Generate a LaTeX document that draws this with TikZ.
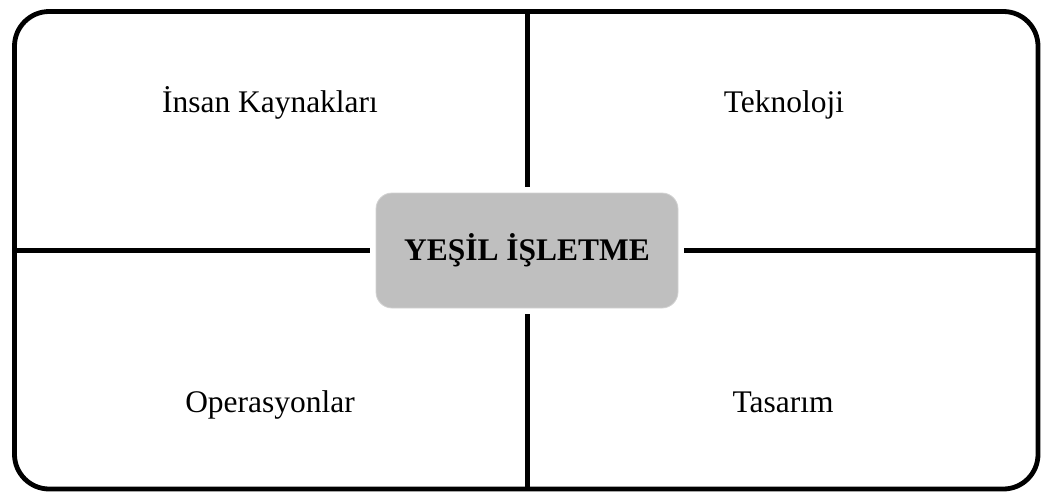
\documentclass[tikz,border=0pt]{standalone}
\usepackage{fontspec}
\setmainfont{Liberation Serif}
\usepackage{tikz}
\usetikzlibrary{positioning}

\tikzset{
    frame/.style={line width=3.6pt, rounded corners=26pt},
    divider/.style={line width=3.75pt, shorten >=4.5pt},
    core/.style={fill=gray!50, draw=gray!35, line width=0.6pt, rounded corners=12pt,
        minimum width=226.5pt, minimum height=86.25pt, inner sep=0pt,
        font=\fontsize{23.6}{28}\selectfont\bfseries},
    area/.style={anchor=base, inner sep=0pt, font=\fontsize{23.6}{28}\selectfont}
}

\begin{document}
\begin{tikzpicture}[x=0.75pt, y=-0.75pt]
    \useasboundingbox (0,0) rectangle (1042,493);
    \draw[frame] (14.5,11.5) rectangle (1038,489);
    \node[core] (core) at (527,250.5) {YEŞİL İŞLETME};
    \coordinate (top) at (527,11.5);
    \coordinate (bottom) at (527,489);
    \coordinate (left) at (14.5,250.5);
    \coordinate (right) at (1038,250.5);
    \draw[divider] (top) -- (core.north);
    \draw[divider] (bottom) -- (core.south);
    \draw[divider] (left) -- (core.west);
    \draw[divider] (right) -- (core.east);
    \node[area] (hr) at (270,112) {İnsan Kaynakları};
    \node[area] (tech) at (784,112) {Teknoloji};
    \node[area] (ops) at (270,412) {Operasyonlar};
    \node[area] (design) at (783,412) {Tasarım};
\end{tikzpicture}
\end{document}
